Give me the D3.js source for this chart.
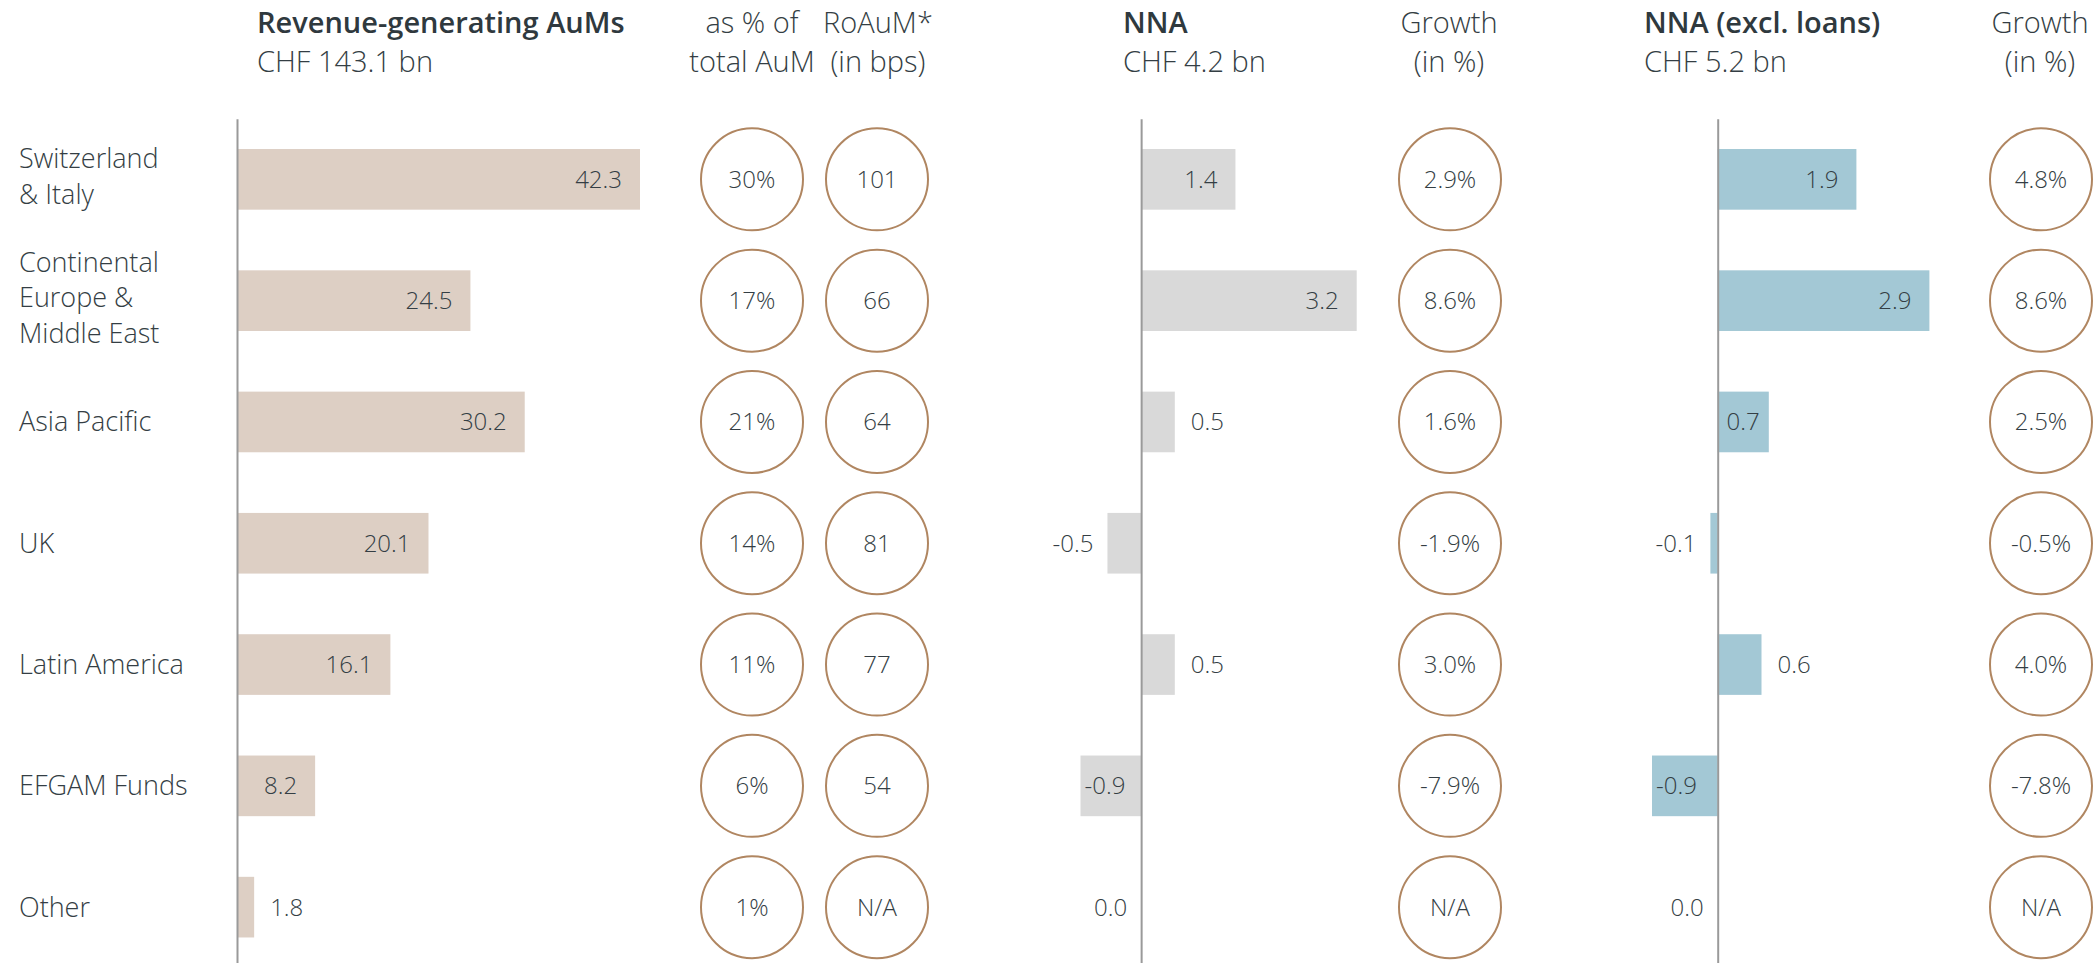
<!DOCTYPE html>
<html>
<head>
<meta charset="utf-8">
<script src="https://cdn.jsdelivr.net/npm/d3@7"></script>
<style>
  body { margin: 0; background: #fff; }
  text { font-family: "Open Sans", Roboto, sans-serif; font-weight: 300; fill: #343e44; }
</style>
</head>
<body>
<div id="chart-area"></div>
<script>
// data
var regions = [["Switzerland", "& Italy"], ["Continental", "Europe &", "Middle East"], ["Asia Pacific"], ["UK"], ["Latin America"], ["EFGAM Funds"], ["Other"]];
var aum = [42.3, 24.5, 30.2, 20.1, 16.1, 8.2, 1.8];
var aumShare = ["30%", "17%", "21%", "14%", "11%", "6%", "1%"];
var roaum = ["101", "66", "64", "81", "77", "54", "N/A"];
var nna = [1.4, 3.2, 0.5, -0.5, 0.5, -0.9, 0.0];
var nnaGrowth = ["2.9%", "8.6%", "1.6%", "-1.9%", "3.0%", "-7.9%", "N/A"];
var nnaExcl = [1.9, 2.9, 0.7, -0.1, 0.6, -0.9, 0.0];
var nnaExclGrowth = ["4.8%", "8.6%", "2.5%", "-0.5%", "4.0%", "-7.8%", "N/A"];
var headTitles = ["Revenue-generating AuMs", "as % of", "RoAuM*", "NNA", "Growth", "NNA (excl. loans)", "Growth"];
var headSubs = ["CHF 143.1 bn", "total AuM", "(in bps)", "CHF 4.2 bn", "(in %)", "CHF 5.2 bn", "(in %)"];

var svg_width = 2098;
var svg_height = 963;
var fmt = d3.formatLocale({decimal: ".", thousands: ",", grouping: [3], currency: ["", ""], minus: "-"}).format(".1f");

var svg = d3.select("#chart-area").append("svg")
    .attr("width", svg_width)
    .attr("height", svg_height);

var ids = regions.map((d, i) => i);

var y = d3.scaleBand()
    .domain(ids)
    .range([118.7, 967.8])
    .paddingInner(0.5)
    .paddingOuter(0.25);

var cy = (i) => y(i) + y.bandwidth() / 2;

// headers
var heads = [
    {x: 257, anchor: "start", bold: true},
    {x: 752, anchor: "middle"},
    {x: 878, anchor: "middle"},
    {x: 1123, anchor: "start", bold: true},
    {x: 1449, anchor: "middle"},
    {x: 1644, anchor: "start", bold: true},
    {x: 2040, anchor: "middle"}
];

heads.forEach((h, i) => {
    svg.append("text")
        .attr("x", h.x).attr("y", 33)
        .attr("text-anchor", h.anchor)
        .style("font-size", "29px")
        .style("font-weight", h.bold ? 600 : 300)
        .style("fill", h.bold ? "#2f393e" : null)
        .text(headTitles[i]);
    svg.append("text")
        .attr("x", h.x).attr("y", 72)
        .attr("text-anchor", h.anchor)
        .style("font-size", "29px")
        .text(headSubs[i]);
});

// category labels
var cats = svg.selectAll(".cat")
    .data(regions)
    .enter()
    .append("text")
    .attr("class", "cat")
    .attr("x", 19)
    .attr("y", (d, i) => cy(i))
    .style("font-size", "27px");

cats.selectAll("tspan")
    .data((d) => d.map((t, k) => ({t: t, k: k, n: d.length})))
    .enter()
    .append("tspan")
    .attr("x", 19)
    .attr("dy", (d) => d.k === 0 ? (0.35 * 27 - (d.n - 1) * 35.5 / 2 - (d.n > 1 ? 3 : 0)) + "px" : "35.5px")
    .text((d) => d.t);

function drawBars(values, x, color) {
    var g = svg.append("g");

    g.selectAll("rect")
        .data(values)
        .enter()
        .append("rect")
        .attr("x", (d) => Math.min(x(0), x(d)))
        .attr("y", (d, i) => y(i))
        .attr("width", (d) => Math.abs(x(d) - x(0)))
        .attr("height", y.bandwidth())
        .attr("fill", color);

    g.selectAll("text")
        .data(values)
        .enter()
        .append("text")
        .attr("y", (d, i) => cy(i))
        .attr("dy", "0.35em")
        .style("font-size", "24px")
        .each(function(d) {
            var w = Math.abs(x(d) - x(0));
            var t = d3.select(this);
            if (w > 48) {
                if (d > 0) t.attr("x", x(d) - Math.min(18, w - 42)).attr("text-anchor", "end");
                else t.attr("x", x(d) + 4).attr("text-anchor", "start");
            } else if (d > 0) {
                t.attr("x", x(d) + 16).attr("text-anchor", "start");
            } else {
                t.attr("x", x(d) - 14).attr("text-anchor", "end");
            }
        })
        .text((d) => fmt(d));

    var axis = d3.axisLeft(y).tickSize(0).tickSizeOuter(0).tickFormat("");
    var ag = g.append("g")
        .attr("transform", "translate(" + x(0) + ",0)")
        .call(axis);
    ag.select(".domain").attr("stroke", "#9a9a9a").attr("stroke-width", 2);
}

function drawCircles(labels, cx) {
    var g = svg.append("g");
    g.selectAll("circle")
        .data(labels)
        .enter()
        .append("circle")
        .attr("cx", cx)
        .attr("cy", (d, i) => cy(i))
        .attr("r", 51)
        .attr("fill", "none")
        .attr("stroke", "#b08661")
        .attr("stroke-width", 2);
    g.selectAll("text")
        .data(labels)
        .enter()
        .append("text")
        .attr("x", cx)
        .attr("y", (d, i) => cy(i))
        .attr("dy", "0.35em")
        .attr("text-anchor", "middle")
        .style("font-size", "24px")
        .text((d) => d);
}

var xAum = d3.scaleLinear()
    .domain([0, d3.max(aum)])
    .range([237, 640]);

var xNna = d3.scaleLinear()
    .domain(d3.extent(nna))
    .range([1080.5, 1356.7]);

var xExcl = d3.scaleLinear()
    .domain(d3.extent(nnaExcl))
    .range([1652, 1929.4]);

drawBars(aum, xAum, "#ddcfc4");
drawBars(nna, xNna, "#d9d9d9");
drawBars(nnaExcl, xExcl, "#a3c8d5");

drawCircles(aumShare, 752);
drawCircles(roaum, 877);
drawCircles(nnaGrowth, 1450);
drawCircles(nnaExclGrowth, 2041);
</script>
</body>
</html>
